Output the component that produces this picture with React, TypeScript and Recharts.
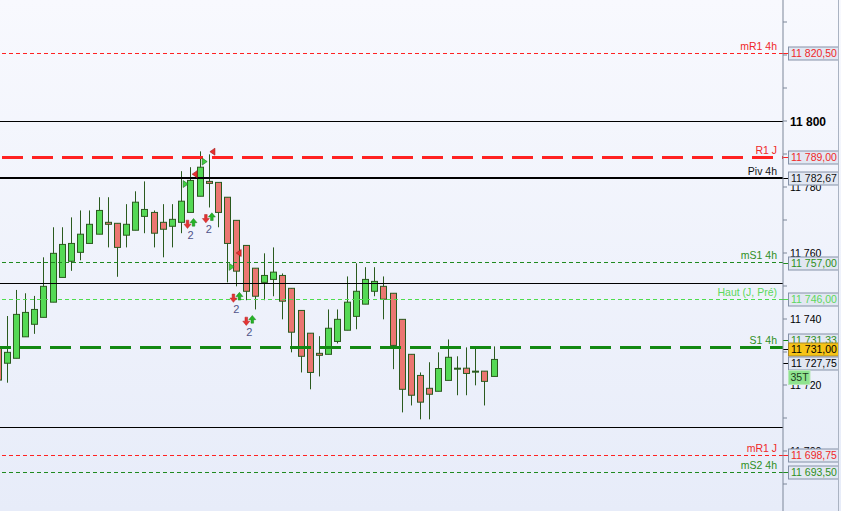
import React from "react";
import { ComposedChart, Bar, Scatter, XAxis, YAxis, ReferenceLine } from "recharts";

// candles left to right (the first one is cut by the left edge)
const opens = [11731.5, 11726.6, 11728.1, 11734.6, 11738.4, 11740.5, 11745.1, 11752.6, 11757.5, 11760.2, 11762.9, 11765.7, 11769.3, 11769.0, 11765.4, 11766.9, 11771.1, 11772.3, 11769.3, 11768.1, 11769.3, 11772.3, 11777.2, 11781.7, 11781.4, 11776.9, 11769.9, 11762.3, 11755.4, 11751.1, 11752.0, 11753.2, 11749.3, 11742.6, 11735.7, 11729.6, 11729.3, 11733.2, 11736.6, 11740.8, 11744.5, 11748.4, 11749.9, 11747.8, 11739.9, 11729.3, 11722.9, 11719.0, 11718.1, 11721.4, 11724.8, 11725.1, 11724.2, 11724.2, 11722.6];
const highs = [11733.0, 11740.9, 11748.8, 11747.8, 11747.0, 11758.7, 11767.8, 11767.8, 11770.8, 11772.9, 11772.9, 11776.9, 11776.9, 11769.0, 11774.8, 11778.7, 11781.7, 11772.9, 11774.8, 11774.8, 11784.8, 11786.0, 11790.8, 11789.9, 11781.4, 11776.9, 11769.9, 11762.3, 11755.4, 11759.9, 11761.7, 11753.8, 11749.3, 11742.6, 11735.7, 11734.8, 11742.9, 11742.9, 11752.9, 11756.9, 11755.7, 11755.7, 11752.9, 11747.8, 11739.9, 11729.3, 11723.8, 11726.9, 11729.9, 11733.8, 11728.7, 11731.4, 11731.7, 11724.2, 11731.7];
const lows = [11721.0, 11720.7, 11728.1, 11734.6, 11735.5, 11740.5, 11745.1, 11752.6, 11754.6, 11757.8, 11762.9, 11765.7, 11761.7, 11752.8, 11761.7, 11766.9, 11766.0, 11761.7, 11758.7, 11761.7, 11766.0, 11772.3, 11777.2, 11773.8, 11767.8, 11751.1, 11749.9, 11745.7, 11742.9, 11745.7, 11746.9, 11739.9, 11729.9, 11723.8, 11718.7, 11722.6, 11729.3, 11732.6, 11736.6, 11736.9, 11744.5, 11746.9, 11739.9, 11724.8, 11711.7, 11713.8, 11709.6, 11709.6, 11718.1, 11721.4, 11716.9, 11716.9, 11719.9, 11713.8, 11722.6];
const closes = [11721.5, 11729.9, 11741.4, 11742.0, 11742.9, 11749.9, 11759.9, 11762.6, 11762.9, 11765.7, 11768.7, 11772.9, 11768.7, 11761.7, 11768.7, 11775.4, 11773.2, 11766.0, 11767.2, 11770.2, 11775.7, 11782.0, 11786.0, 11781.1, 11772.3, 11762.9, 11754.5, 11748.4, 11746.9, 11753.2, 11754.2, 11745.4, 11736.0, 11728.7, 11723.8, 11729.0, 11737.2, 11739.9, 11745.1, 11748.4, 11752.0, 11751.4, 11746.0, 11732.0, 11718.7, 11716.9, 11714.8, 11717.2, 11725.0, 11728.4, 11725.1, 11723.5, 11724.2, 11721.1, 11727.75];
const SLOTS = 86;

// named levels
const levelNames = ["mR1 4h", "R1 J", "Piv 4h", "mS1 4h", "Haut (J, Pré)", "S1 4h", "mR1 J", "mS2 4h"];
const levelValues = [11820.5, 11789.0, 11782.67, 11757.0, 11746.0, 11731.33, 11698.75, 11693.5];
const plainLines = [11800, 11750.75, 11707];
const quoteValue = 11731.0;
const lastPrice = 11727.75;
const tickCountLabel = "35T";
const yTicks = [11690, 11700, 11710, 11720, 11730, 11740, 11750, 11760, 11770, 11780, 11790, 11800, 11810, 11820, 11830];
const yTickLabels = [11700, 11720, 11740, 11760, 11780, 11800, 11820];

// signal arrows and flags
const arrowX = [21, 23, 26, 27.4];
const arrowY = [11768.9, 11770.6, 11746.5, 11739.5];
const arrowText = ["2", "2", "2", "2"];
const flagX = [20.42, 21.51, 22.49, 23.44, 25.43, 26.3];
const flagY = [11780.9, 11783.9, 11787.7, 11790.7, 11755.8, 11760.0];
const flagDir = ["buy", "sell", "buy", "sell", "buy", "sell"];

const RED = "#ff2222";
const DKGREEN = "#1f8a1f";
const LTGREEN = "#4ddd4d";
const WICK = "#2a5a1e";

const levelStyle: Record<string, any> = {
  "mR1 4h": { stroke: RED, width: 1, dash: "4 3", text: "#f02828" },
  "R1 J": { stroke: RED, width: 3, dash: "21 9", offset: 19.7, text: "#f02828" },
  "Piv 4h": { stroke: "#000", width: 2, text: "#111" },
  "mS1 4h": { stroke: DKGREEN, width: 1, dash: "4 3", text: "#2e8f22" },
  "Haut (J, Pré)": { stroke: LTGREEN, width: 1, dash: "4 3", text: "#5cd85c" },
  "S1 4h": { stroke: "#128812", width: 3, dash: "21 9", offset: 8, text: "#2e8f22", shift: -8 },
  "mR1 J": { stroke: RED, width: 1, dash: "4 3", text: "#f02828" },
  "mS2 4h": { stroke: DKGREEN, width: 1, dash: "4 3", text: "#2e8f22" },
};

const FONT = '"Liberation Sans", Arial, sans-serif';

const fmt = (v: number, dec = 2) => {
  const [i, d] = v.toFixed(dec).split(".");
  const s = i.slice(0, -3) + " " + i.slice(-3);
  return d ? s + "," + d : s;
};

const rows = Array.from({ length: SLOTS }, (_, i) =>
  i < opens.length
    ? { i, open: opens[i], high: highs[i], low: lows[i], close: closes[i], range: [lows[i], highs[i]] }
    : { i }
);
const arrowData = arrowX.map((x, k) => ({ x, y: arrowY[k], t: arrowText[k] }));
const flagData = flagX.map((x, k) => ({ x, y: flagY[k], dir: flagDir[k] }));

const Candle = (props: any) => {
  const { x, y, width, height, payload } = props;
  if (!payload || payload.open == null || isNaN(y)) return null;
  const { open, close, high, low } = payload;
  const top = Math.min(y, y + height);
  const h = Math.abs(height);
  const ratio = h / (high - low);
  const yOf = (v: number) => top + (high - v) * ratio;
  const cx = Math.round(x + width / 2) + 0.5;
  const bTop = yOf(Math.max(open, close));
  const bBot = yOf(Math.min(open, close));
  const up = close >= open;
  return (
    <g>
      <line x1={cx} x2={cx} y1={top} y2={top + h} stroke={WICK} strokeWidth={1} />
      <rect x={cx - 3} y={bTop} width={6} height={Math.max(bBot - bTop, 1)} fill={up ? "#55d955" : "#eb7671"} stroke={WICK} strokeWidth={1} />
    </g>
  );
};

const ArrowPair = (props: any) => {
  const { cx, cy, payload } = props;
  const ax = cx - 3;
  const gx = cx + 3;
  return (
    <g>
      <path d={`M${ax - 1.3},${cy - 3.5} H${ax + 1.3} V${cy + 0.5} H${ax + 3.5} L${ax},${cy + 4.8} L${ax - 3.5},${cy + 0.5} H${ax - 1.3} Z`} fill="#e53333" stroke="#b52020" strokeWidth={0.5} />
      <path d={`M${gx},${cy - 5.2} L${gx + 3.5},${cy - 1} H${gx + 1.3} V${cy + 2.5} H${gx - 1.3} V${cy - 1} H${gx - 3.5} Z`} fill="#25b525" stroke="#17801a" strokeWidth={0.5} />
      <text x={cx} y={cy + 15} textAnchor="middle" fontSize={11} fontFamily={FONT} fill="#50548a">{payload.t}</text>
    </g>
  );
};

const Flag = (props: any) => {
  const { cx, cy, payload } = props;
  if (payload.dir === "buy") {
    return <path d={`M${cx - 2},${cy - 3.5} L${cx + 3},${cy} L${cx - 2},${cy + 3.5} Z`} fill="#3fcf3f" stroke="#1d6e1d" strokeWidth={0.6} />;
  }
  return <path d={`M${cx + 2},${cy - 3.5} L${cx - 3},${cy} L${cx + 2},${cy + 3.5} Z`} fill="#e83030" stroke="#a01818" strokeWidth={0.6} />;
};

const NoTick = () => null;

// axis value, drawn as a reference label so the price boxes can cover it
const AxisValue = ({ viewBox, value }: any) => {
  if (!viewBox) return null;
  const right = viewBox.x + viewBox.width;
  const bold = value === 11800;
  return (
    <text x={right + 7} y={viewBox.y + (bold ? 4.5 : 4)} fontSize={bold ? 12 : 10.5} fontWeight={bold ? 700 : 400} fontFamily={FONT} fill="#000">
      {fmt(value, 0)}
    </text>
  );
};

const PriceBox = ({ x, y, text, color, fill, stroke, tickColor }: any) => (
  <g>
    <line x1={x} x2={x + 5} y1={Math.round(y) + 0.5} y2={Math.round(y) + 0.5} stroke={tickColor} />
    <rect x={x + 5.5} y={Math.round(y) - 6} width={50} height={13} fill={fill} stroke={stroke} />
    <text x={x + 8} y={Math.round(y) + 4.3} fontSize={10.5} fontFamily={FONT} fill={color}>{text}</text>
  </g>
);

const LevelTag = ({ viewBox, name, value }: any) => {
  if (!viewBox) return null;
  const st = levelStyle[name];
  const right = viewBox.x + viewBox.width;
  const y = viewBox.y;
  return (
    <g>
      <text x={right - 6} y={y - 3.5} textAnchor="end" fontSize={10.5} fontFamily={FONT} fill={st.text}>{name}</text>
      <PriceBox x={right} y={y + (st.shift || 0)} text={fmt(value)} color={st.text} fill="#e2e7f2" stroke="#8592a8" tickColor={st.stroke} />
    </g>
  );
};

const QuoteTag = ({ viewBox }: any) => {
  if (!viewBox) return null;
  const right = viewBox.x + viewBox.width;
  return <PriceBox x={right} y={viewBox.y} text={fmt(quoteValue)} color="#000" fill="#f6c417" stroke="#a88a2a" tickColor="#000" />;
};

const LastTag = ({ viewBox }: any) => {
  if (!viewBox) return null;
  const right = viewBox.x + viewBox.width;
  const y = viewBox.y + 3.5;
  return (
    <g>
      <PriceBox x={right} y={y} text={fmt(lastPrice)} color="#000" fill="#e2e7f2" stroke="#8592a8" tickColor="#000" />
      <rect x={right + 5.5} y={Math.round(y) + 7.5} width={21.5} height={14} fill="#8fe48f" stroke="#b8e8b8" />
      <text x={right + 7.5} y={Math.round(y) + 18.3} fontSize={10.5} fontFamily={FONT} fill="#1e3a1e">{tickCountLabel}</text>
    </g>
  );
};

export default function App() {
  return (
    <div
      style={{
        position: "fixed",
        left: 0,
        top: 0,
        width: 841,
        height: 511,
        overflow: "hidden",
        background: "linear-gradient(#f8f9fe, #e7ecf9)",
        fontFamily: FONT,
      }}
    >
      <div style={{ position: "absolute", left: -7, top: 0 }}>
        <ComposedChart width={848} height={511} data={rows} margin={{ top: 0, right: 0, bottom: 0, left: 0 }}>
          <XAxis xAxisId="cat" dataKey="i" type="category" hide />
          <XAxis xAxisId="num" dataKey="x" type="number" domain={[-0.5, SLOTS - 0.5]} allowDataOverflow hide />
          <YAxis
            orientation="right"
            width={58}
            domain={[11681.82, 11836.67]}
            allowDataOverflow
            ticks={yTicks}
            interval={0}
            tickSize={4}
            tickMargin={3}
            axisLine={{ stroke: "#7d8799" }}
            tickLine={{ stroke: "#7d8799" }}
            tick={<NoTick />}
          />
          {yTickLabels.map((v) => (
            <ReferenceLine key={"t" + v} xAxisId="cat" y={v} stroke="none" label={(p: any) => <AxisValue {...p} value={v} />} />
          ))}
          {plainLines.map((v) => (
            <ReferenceLine key={"p" + v} xAxisId="cat" y={v} stroke="#000" strokeWidth={1} shapeRendering="crispEdges" />
          ))}
          {levelNames.map((name, k) => {
            const st = levelStyle[name];
            return (
              <ReferenceLine
                key={name}
                xAxisId="cat"
                y={levelValues[k]}
                stroke={st.stroke}
                strokeWidth={st.width}
                strokeDasharray={st.dash}
                strokeDashoffset={st.offset}
                shapeRendering="crispEdges"
                label={(p: any) => <LevelTag {...p} name={name} value={levelValues[k]} />}
              />
            );
          })}
          <ReferenceLine xAxisId="cat" y={quoteValue} stroke="none" label={(p: any) => <QuoteTag {...p} />} />
          <ReferenceLine xAxisId="cat" y={lastPrice} stroke="none" label={(p: any) => <LastTag {...p} />} />
          <Bar xAxisId="cat" dataKey="range" barSize={7} shape={<Candle />} isAnimationActive={false} />
          <Scatter xAxisId="num" data={flagData} dataKey="y" shape={<Flag />} isAnimationActive={false} />
          <Scatter xAxisId="num" data={arrowData} dataKey="y" shape={<ArrowPair />} isAnimationActive={false} />
        </ComposedChart>
      </div>
      <div style={{ position: "absolute", left: 838, top: 0, width: 1, height: 511, background: "#aab3c2" }} />
    </div>
  );
}
